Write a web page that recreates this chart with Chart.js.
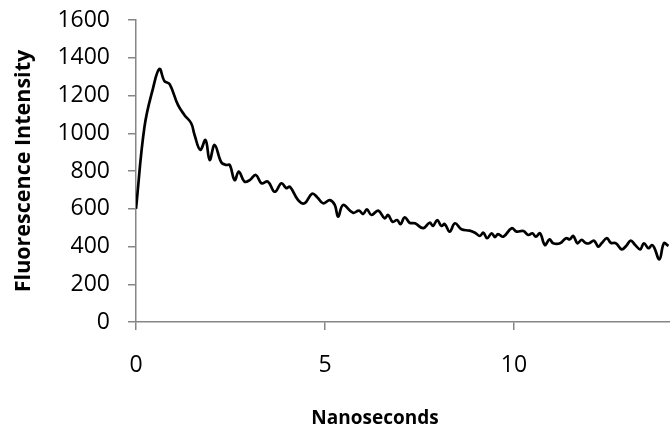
<!DOCTYPE html>
<html>
<head>
<meta charset="utf-8">
<script src="https://cdn.jsdelivr.net/npm/chart.js@4.4.1/dist/chart.umd.min.js"></script>
<style>
  body { margin: 0; background: #fff; }
  #wrap { width: 670px; height: 427px; }
</style>
</head>
<body>
<div id="wrap"><canvas id="decayChart" width="670" height="427"></canvas></div>
<script>
// values
var nanoseconds = [
  0, 0.225, 0.45, 0.62, 0.75, 0.89, 1.11, 1.28, 1.46, 1.55,
  1.70, 1.84, 1.95, 2.08, 2.26, 2.39, 2.48, 2.61, 2.72, 2.87,
  3.01, 3.17, 3.32, 3.49, 3.67, 3.85, 3.98, 4.07, 4.29, 4.46,
  4.66, 4.80, 4.95, 5.13, 5.26, 5.35, 5.48, 5.74, 5.90, 6.01,
  6.11, 6.23, 6.41, 6.58, 6.67, 6.79, 6.91, 7.00, 7.11, 7.24,
  7.38, 7.60, 7.77, 7.86, 7.97, 8.08, 8.17, 8.30, 8.44, 8.61,
  8.83, 8.97, 9.10, 9.19, 9.29, 9.41, 9.50, 9.58, 9.72, 9.94,
  10.07, 10.25, 10.38, 10.49, 10.58, 10.69, 10.82, 10.94, 11.04, 11.22,
  11.38, 11.48, 11.57, 11.68, 11.79, 11.90, 11.99, 12.12, 12.23, 12.32,
  12.46, 12.56, 12.70, 12.85, 12.97, 13.09, 13.21, 13.34, 13.44, 13.56,
  13.65, 13.71, 13.85, 13.97, 14.09
];
var intensity = [
  600, 1035, 1238, 1341, 1277, 1260, 1150, 1097, 1053, 991,
  912, 964, 858, 938, 845, 832, 832, 752, 797, 744,
  752, 779, 735, 744, 690, 735, 709, 717, 646, 629,
  680, 660, 629, 646, 620, 558, 620, 579, 590, 572,
  597, 567, 590, 549, 567, 531, 540, 518, 555, 526,
  523, 497, 526, 509, 540, 509, 519, 479, 523, 491,
  484, 473, 456, 473, 444, 470, 450, 466, 452, 497,
  479, 482, 461, 470, 452, 470, 408, 438, 417, 417,
  444, 438, 456, 417, 435, 418, 417, 431, 399, 417,
  444, 420, 417, 385, 403, 431, 408, 385, 417, 391,
  408, 396, 332, 417, 403
];
var xTitle = "Nanoseconds";
var yTitle = "Fluorescence Intensity";

var axisGray = "#868686";
var fontFam = "'Open Sans', 'Liberation Sans', sans-serif";

var points = nanoseconds.map(function (t, i) {
  return { x: t, y: intensity[i] };
});

// x axis title sits left of the plot centre in the reference, so draw it here
var xTitlePlugin = {
  id: "xTitlePlugin",
  afterDraw: function (chart) {
    var ctx = chart.ctx;
    ctx.save();
    ctx.font = "bold 19px " + fontFam;
    ctx.fillStyle = "#000";
    ctx.textAlign = "center";
    ctx.textBaseline = "alphabetic";
    ctx.fillText(xTitle, 375, 424);
    ctx.restore();
  }
};

var ctx = document.getElementById("decayChart").getContext("2d");
var myChart = new Chart(ctx, {
  type: "line",
  data: {
    datasets: [
      {
        data: points,
        borderColor: "#000",
        borderWidth: 2.7,
        pointRadius: 0,
        tension: 0.4,
        fill: false
      }
    ]
  },
  options: {
    responsive: false,
    animation: false,
    layout: { padding: { top: 20, right: 0, left: 0, bottom: 0 } },
    plugins: { legend: { display: false }, tooltip: { enabled: false } },
    scales: {
      x: {
        type: "linear",
        min: 0,
        max: 14.13,
        afterFit: function (scale) {
          scale.height = 105;
          scale.paddingLeft = 0;
          scale.paddingRight = 0;
        },
        ticks: {
          stepSize: 5,
          includeBounds: false,
          color: "#000",
          padding: 22,
          maxRotation: 0,
          font: { family: fontFam, size: 23 }
        },
        grid: { drawOnChartArea: false, drawTicks: true, tickLength: 8, color: axisGray, lineWidth: 1.5 },
        border: { color: axisGray, width: 1.5 }
      },
      y: {
        min: 0,
        max: 1600,
        afterFit: function (scale) {
          scale.width = 136;
          scale.paddingTop = 0;
          scale.paddingBottom = 0;
        },
        ticks: {
          stepSize: 200,
          color: "#000",
          padding: 18,
          font: { family: fontFam, size: 23 },
          callback: function (value) { return String(value); }
        },
        grid: { drawOnChartArea: false, drawTicks: true, tickLength: 8, color: axisGray, lineWidth: 1.5 },
        border: { color: axisGray, width: 1.5 },
        title: {
          display: true,
          text: yTitle,
          color: "#000",
          padding: { top: 11, bottom: 0 },
          font: { family: fontFam, size: 21.5, weight: "bold" }
        }
      }
    }
  },
  plugins: [xTitlePlugin]
});
</script>
</body>
</html>
